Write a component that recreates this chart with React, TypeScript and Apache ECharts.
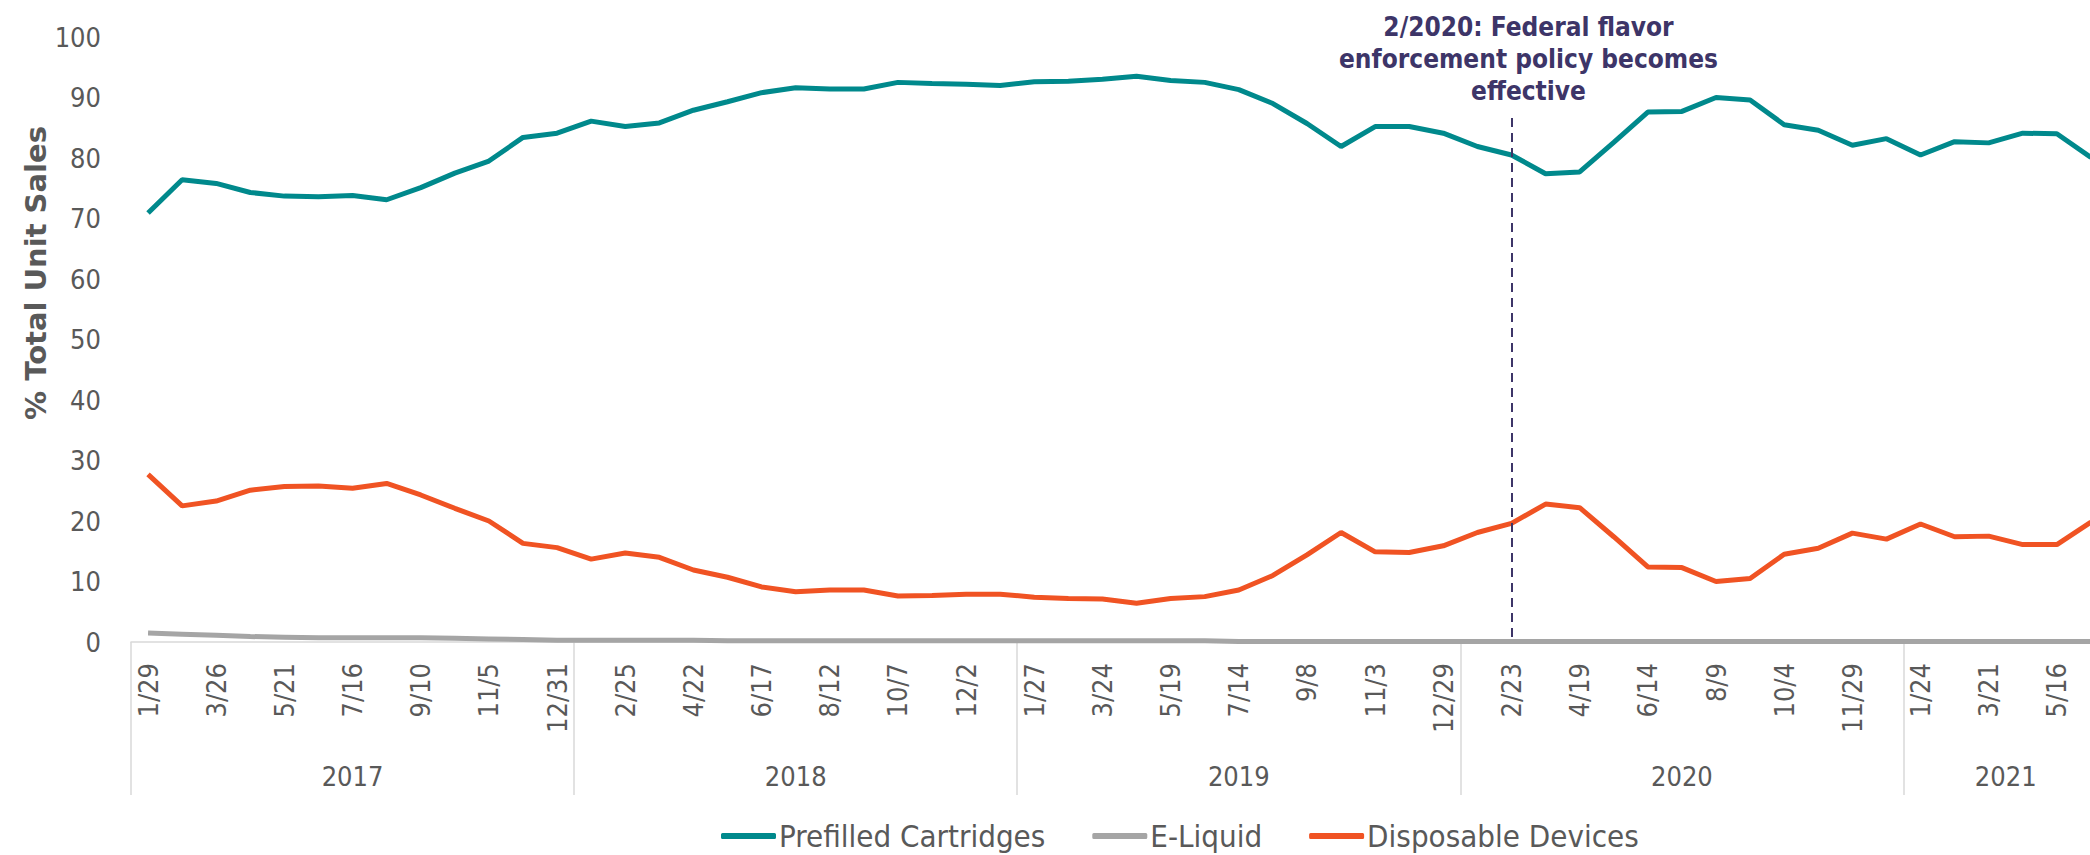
import React, { useEffect, useRef } from "react";
import * as echarts from "echarts";

const weekLabels = [
  "1/29", "2/26", "3/26", "4/23", "5/21", "6/18", "7/16", "8/13", "9/10", "10/8", "11/5", "12/3", "12/31",
  "1/28", "2/25", "3/25", "4/22", "5/20", "6/17", "7/15", "8/12", "9/9", "10/7", "11/4", "12/2", "12/30",
  "1/27", "2/24", "3/24", "4/21", "5/19", "6/16", "7/14", "8/11", "9/8", "10/6", "11/3", "12/1", "12/29",
  "1/26", "2/23", "3/22", "4/19", "5/17", "6/14", "7/12", "8/9", "9/6", "10/4", "11/1", "11/29", "12/27",
  "1/24", "2/21", "3/21", "4/18", "5/16", "6/13",
];

const years = ["2017", "2018", "2019", "2020", "2021"];
const weeksPerYear = [13, 13, 13, 13, 6];

const prefilledCartridges = [
  70.9, 76.4, 75.8, 74.3, 73.7, 73.6, 73.8, 73.1, 75.1, 77.5, 79.5, 83.4, 84.1,
  86.1, 85.2, 85.8, 87.9, 89.3, 90.8, 91.6, 91.4, 91.4, 92.5, 92.3, 92.2, 92.0,
  92.6, 92.7, 93.0, 93.5, 92.8, 92.5, 91.3, 89.0, 85.7, 81.9, 85.2, 85.2, 84.1,
  81.9, 80.5, 77.4, 77.7, 82.6, 87.6, 87.7, 90.0, 89.6, 85.5, 84.6, 82.1, 83.2,
  80.5, 82.7, 82.5, 84.1, 84.0, 80.1,
];

const eLiquid = [
  1.5, 1.3, 1.1, 0.9, 0.8, 0.7, 0.7, 0.7, 0.7, 0.6, 0.5, 0.4, 0.3,
  0.3, 0.3, 0.3, 0.3, 0.2, 0.2, 0.2, 0.2, 0.2, 0.2, 0.2, 0.2, 0.2,
  0.2, 0.2, 0.2, 0.2, 0.2, 0.2, 0.1, 0.1, 0.1, 0.1, 0.1, 0.1, 0.1,
  0.1, 0.1, 0.1, 0.1, 0.1, 0.1, 0.1, 0.1, 0.1, 0.1, 0.1, 0.1, 0.1,
  0.1, 0.1, 0.1, 0.1, 0.1, 0.1,
];

const disposableDevices = [
  27.7, 22.5, 23.3, 25.1, 25.7, 25.8, 25.4, 26.2, 24.3, 22.1, 20.0, 16.3, 15.6,
  13.7, 14.7, 14.0, 11.9, 10.7, 9.1, 8.3, 8.6, 8.6, 7.6, 7.7, 7.9, 7.9,
  7.4, 7.2, 7.1, 6.4, 7.2, 7.5, 8.6, 11.0, 14.4, 18.1, 14.9, 14.8, 15.9,
  18.1, 19.6, 22.8, 22.2, 17.4, 12.4, 12.3, 10.0, 10.5, 14.5, 15.5, 18.0, 17.0,
  19.5, 17.4, 17.5, 16.1, 16.1, 19.8,
];

const policyWeek = "2/23";
const policyLineTop = 86.6;
const policyText = "2/2020: Federal flavor\nenforcement policy becomes\neffective";

const FONT = "'DejaVu Sans Condensed', 'DejaVu Sans', sans-serif";
const GREY_TEXT = "#595959";
const PURPLE = "#3D3568";

export default function App() {
  const ref = useRef<HTMLDivElement>(null);

  useEffect(() => {
    if (!ref.current) return;
    const chart = echarts.init(ref.current, null, { renderer: "svg" });

    const yearAxis: string[] = [];
    const groupStarts: number[] = [];
    const labelIdx: Record<number, boolean> = {};
    const halfShift: Record<number, boolean> = {};
    let start = 0;
    years.forEach((y, k) => {
      const n = weeksPerYear[k];
      groupStarts.push(start);
      const mid = start + Math.floor((n - 1) / 2);
      labelIdx[mid] = true;
      if (n % 2 === 0) halfShift[mid] = true;
      for (let i = 0; i < n; i++) yearAxis.push(y);
      start += n;
    });

    chart.setOption({
      animation: false,
      backgroundColor: "#ffffff",
      grid: { left: 131, top: 37, width: 1977, height: 605, containLabel: false },
      legend: {
        left: 721,
        top: 819,
        padding: 0,
        itemGap: 47,
        itemWidth: 55,
        itemHeight: 6,
        icon: "roundRect",
        textStyle: {
          fontFamily: FONT,
          fontSize: 31,
          lineHeight: 34,
          color: GREY_TEXT,
          padding: [0, 0, 0, -2],
        },
        data: ["Prefilled Cartridges", "E-Liquid", "Disposable Devices"],
      },
      graphic: [
        {
          type: "text",
          x: 36,
          y: 273,
          rotation: Math.PI / 2,
          style: {
            text: "% Total Unit Sales",
            fontFamily: "'DejaVu Sans', sans-serif",
            fontWeight: "bold",
            fontSize: 29,
            fill: GREY_TEXT,
            align: "center",
            verticalAlign: "middle",
          },
        },
      ],
      xAxis: [
        {
          type: "category",
          data: weekLabels,
          boundaryGap: true,
          axisLine: { show: true, lineStyle: { color: "#D9D9D9", width: 1.5 } },
          axisTick: { show: false },
          axisLabel: {
            interval: 1,
            rotate: 90,
            margin: 21,
            fontFamily: FONT,
            fontSize: 27,
            color: GREY_TEXT,
          },
          splitLine: { show: false },
        },
        {
          type: "category",
          data: yearAxis,
          position: "bottom",
          offset: 0,
          boundaryGap: true,
          axisLine: { show: false },
          axisTick: {
            show: true,
            length: 153,
            interval: (i: number) => groupStarts.indexOf(i) >= 0,
            lineStyle: { color: "#D9D9D9", width: 1.5 },
          },
          axisLabel: {
            interval: (i: number) => !!labelIdx[i],
            margin: 121,
            fontFamily: FONT,
            fontSize: 27,
            color: GREY_TEXT,
            formatter: (v: string, i: number) => (halfShift[i] ? "{s|" + v + "}" : v),
            rich: {
              s: { padding: [0, 0, 0, 34], fontFamily: FONT, fontSize: 27, color: GREY_TEXT },
            },
          },
          splitLine: { show: false },
        },
      ],
      yAxis: {
        type: "value",
        min: 0,
        max: 100,
        interval: 10,
        axisLine: { show: false },
        axisTick: { show: false },
        splitLine: { show: false },
        axisLabel: { margin: 30, fontFamily: FONT, fontSize: 27, color: GREY_TEXT },
      },
      series: [
        {
          name: "Prefilled Cartridges",
          type: "line",
          data: prefilledCartridges,
          symbol: "none",
          lineStyle: { color: "#00898C", width: 5 },
          itemStyle: { color: "#00898C" },
          z: 3,
          markLine: {
            silent: true,
            symbol: "none",
            lineStyle: { type: [9, 6], color: PURPLE, width: 2 },
            label: {
              show: true,
              position: "start",
              distance: 11,
              offset: [17, 0],
              formatter: policyText,
              fontFamily: FONT,
              fontWeight: "bold",
              fontSize: 26,
              lineHeight: 32,
              color: PURPLE,
              align: "center",
            },
            data: [
              [
                { coord: [policyWeek, policyLineTop] },
                { coord: [policyWeek, 0] },
              ],
            ],
          },
        },
        {
          name: "E-Liquid",
          type: "line",
          data: eLiquid,
          symbol: "none",
          lineStyle: { color: "#A5A5A5", width: 5 },
          itemStyle: { color: "#A5A5A5" },
          z: 2,
        },
        {
          name: "Disposable Devices",
          type: "line",
          data: disposableDevices,
          symbol: "none",
          lineStyle: { color: "#F05323", width: 5 },
          itemStyle: { color: "#F05323" },
          z: 3,
        },
      ],
    });

    return () => chart.dispose();
  }, []);

  return (
    <div
      style={{
        position: "fixed",
        left: 0,
        top: 0,
        width: 2090,
        height: 855,
        overflow: "hidden",
        background: "#fff",
      }}
    >
      <div ref={ref} style={{ width: 2125, height: 855 }} />
    </div>
  );
}
